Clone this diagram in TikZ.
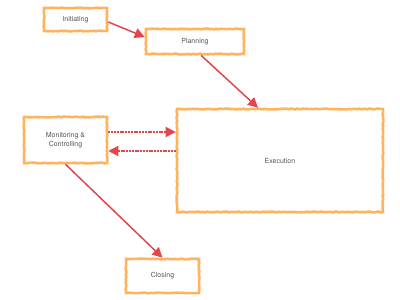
\documentclass[tikz,border=0pt]{standalone}
\usepackage{fontspec}
\setmainfont{TeX Gyre Heros}
\usetikzlibrary{arrows.meta,decorations.pathmorphing}
\definecolor{boxorange}{HTML}{FFB35C}
\definecolor{arrowred}{HTML}{E0474C}
\definecolor{textgray}{HTML}{555555}

\begin{document}
\begin{tikzpicture}[x=1pt,y=-1pt,
  every node/.style={font=\fontsize{7}{8.5}\selectfont,text=textgray},
  phase/.style={draw=boxorange,line width=2.6pt,fill=white,align=center,inner sep=0pt,
    decorate,decoration={random steps,segment length=2pt,amplitude=0.4pt}},
  flow/.style={draw=arrowred,line width=1.5pt,-{Triangle[length=10pt,width=10pt]}},
  roughflow/.style={flow,dash pattern=on 2pt off 0.8pt}]
\useasboundingbox (0,0) rectangle (400,300);
\node[phase,minimum width=63pt,minimum height=23pt] (init) at (75.5,19.5) {Initiating};
\node[phase,minimum width=98pt,minimum height=25pt] (plan) at (195,41.5) {Planning};
\node[phase,minimum width=83pt,minimum height=46pt] (mon) at (65.5,140) {Monitoring \&\\Controlling};
\node[phase,minimum width=206pt,minimum height=103pt] (exec) at (280,160.5) {Execution};
\node[phase,minimum width=73pt,minimum height=34pt] (close) at (162.5,276) {Closing};
% arrows between phases
\draw[flow] (init.east |- 0,22) -- (plan.west |- 0,37);
\draw[flow] (plan.south -| 201,0) -- (exec.north -| 258,0);
\draw[roughflow] (mon.east |- 0,132) -- (exec.west |- 0,132);
\draw[roughflow] (exec.west |- 0,151) -- (mon.east |- 0,151);
\draw[flow] (mon.south) -- (close.north);
\end{tikzpicture}
\end{document}
